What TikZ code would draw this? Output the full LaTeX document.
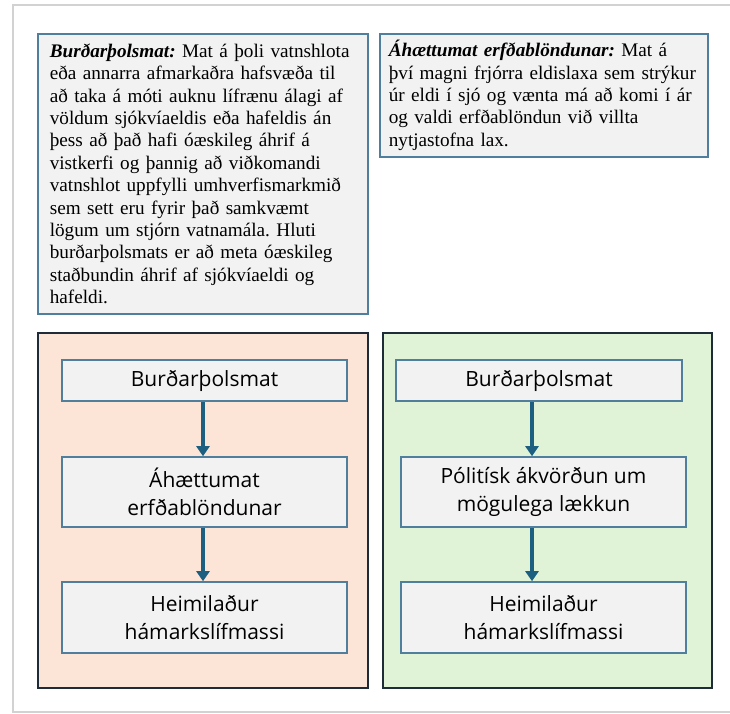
\documentclass[tikz,border=0pt]{standalone}
\usepackage{fontspec}
\setmainfont{Liberation Serif}
\newfontfamily\boxfont{Open Sans}
\usetikzlibrary{arrows.meta,calc}
\definecolor{boxgray}{HTML}{F2F2F2}
\definecolor{boxline}{HTML}{4F7F9C}
\definecolor{frameline}{HTML}{1E2B38}
\definecolor{peach}{HTML}{FCE4D6}
\definecolor{mint}{HTML}{E0F3D6}
\definecolor{arrowc}{HTML}{1D5F80}
\tikzset{
  textbox/.style={draw=boxline, fill=boxgray, line width=1.6pt, align=left,
    inner xsep=12pt, inner ysep=0pt, anchor=north west,
    font=\frenchspacing\fontsize{19.2}{22.4}\selectfont},
  framebox/.style={draw=frameline, line width=2pt, anchor=north west, inner sep=0pt},
  stepbox/.style={draw=boxline, fill=boxgray, line width=1.6pt, align=center,
    minimum width=285pt, inner sep=0pt,
    font=\boxfont\fontsize{21}{28}\selectfont},
  flow/.style={draw=arrowc, line width=3.4pt, -{Triangle[length=10pt,width=13pt]}}
}
\begin{document}
\begin{tikzpicture}[x=1pt,y=-1pt]
\useasboundingbox (0,0) rectangle (730,713);
\fill[white] (0,0) rectangle (730,713);
% page
\draw[gray!35, line width=1.8pt] (740,5) -- (13,5) -- (13,712) -- (740,712);

% definitions
\node[textbox, text width=306pt, minimum height=280pt] (def1) at (37,33)
 {\textbf{\textit{Burðarþolsmat:}} Mat á þoli vatnshlota\\
eða annarra afmarkaðra hafsvæða til\\
að taka á móti auknu lífrænu álagi af\\
völdum sjókvíaeldis eða hafeldis án\\
þess að það hafi óæskileg áhrif á\\
vistkerfi og þannig að viðkomandi\\
vatnshlot uppfylli umhverfismarkmið\\
sem sett eru fyrir það samkvæmt\\
lögum um stjórn vatnamála. Hluti\\
burðarþolsmats er að meta óæskileg\\
staðbundin áhrif af sjókvíaeldi og\\
hafeldi.};
\node[textbox, inner xsep=9pt, text width=310pt, minimum height=123pt] (def2) at (379,33)
 {\textbf{\textit{Áhættumat erfðablöndunar:}} Mat á\\
því magni frjórra eldislaxa sem strýkur\\
úr eldi í sjó og vænta má að komi í ár\\
og valdi erfðablöndun við villta\\
nytjastofna lax.};

% frames
\node[framebox, fill=peach, minimum width=330pt, minimum height=355pt] (lf) at (37,332) {};
\node[framebox, fill=mint, minimum width=329pt, minimum height=355pt] (rf) at (382,332) {};

% left flow
\node[stepbox, minimum height=41pt] (l1) at (204.5,380.5) {Burðarþolsmat};
\node[stepbox, minimum height=70pt] (l2) at (204.5,492) {Áhættumat\\erfðablöndunar};
\node[stepbox, minimum height=71pt] (l3) at (204.5,617.5) {Heimilaður\\hámarkslífmassi};

% right flow
\node[stepbox, minimum width=286pt, minimum height=41pt] (r1) at (539,380.5) {Burðarþolsmat};
\node[stepbox, minimum height=70pt] (r2) at (543.5,492) {Pólitísk ákvörðun um\\mögulega lækkun};
\node[stepbox, minimum height=71pt] (r3) at (543.5,617.5) {Heimilaður\\hámarkslífmassi};

\coordinate (la) at (203,0);
\coordinate (ra) at (532,0);
\draw[flow] (l1.south -| la) -- (l2.north -| la);
\draw[flow] (l2.south -| la) -- (l3.north -| la);
\draw[flow] (r1.south -| ra) -- (r2.north -| ra);
\draw[flow] (r2.south -| ra) -- (r3.north -| ra);
\end{tikzpicture}
\end{document}
